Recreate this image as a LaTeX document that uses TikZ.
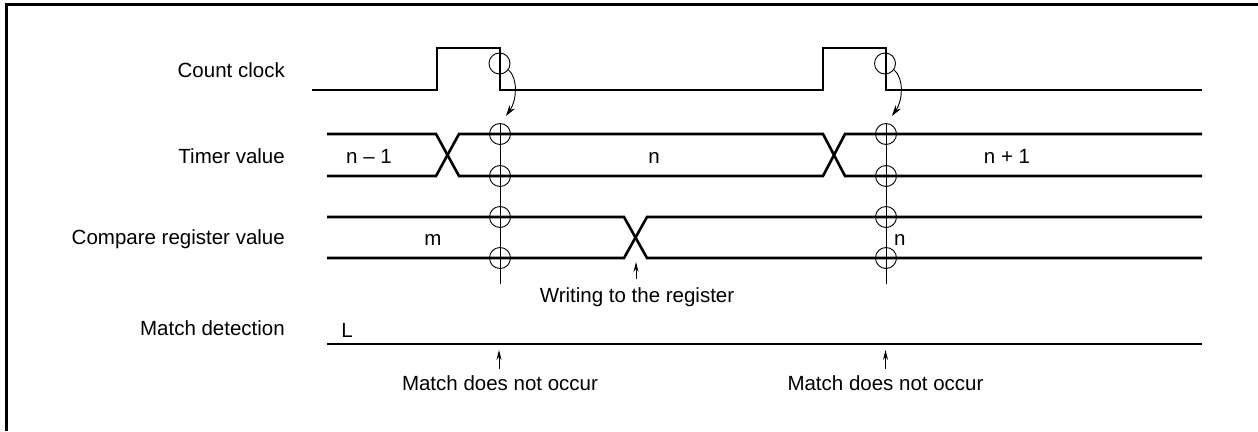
\documentclass[tikz,border=0pt]{standalone}
\usepackage{fontspec}
\setmainfont{Liberation Sans}
\usetikzlibrary{arrows.meta}
\begin{document}
\begin{tikzpicture}[x=1pt,y=-1pt,
  sig/.style={line width=2.6pt,line join=miter},
  thin/.style={line width=0.9pt},
  ring/.style={circle,draw,line width=0.9pt,minimum size=21pt,inner sep=0pt},
  lbl/.style={inner sep=0pt,font=\fontsize{20.5}{24}\selectfont},
  tip/.style={-{Stealth[length=11pt,width=6.5pt]}},
  stip/.style={-{Stealth[length=10pt,width=5pt]}}]
\useasboundingbox (0,0) rectangle (1258,431);
% frame
\draw[line width=3pt] (6.5,431) -- (6.5,4.5) -- (1258,4.5);
% labels
\node[lbl,anchor=base east] (lclk) at (285,77) {Count clock};
\node[lbl,anchor=base east] (ltim) at (285,163) {Timer value};
\node[lbl,anchor=base east] (lcmp) at (285,244) {Compare register value};
\node[lbl,anchor=base east] (lmat) at (285,335) {Match detection};
% waveforms
\draw[sig] (312,90) -- (437,90) -- (437,48) -- (500,48) -- (500,90) -- (823,90) -- (823,48) -- (886,48) -- (886,90) -- (1202,90);
\draw[sig] (327,134) -- (436,134) -- (459,176) -- (823,176) -- (845,134) -- (1202,134);
\draw[sig] (327,176) -- (436,176) -- (459,134) -- (823,134) -- (845,176) -- (1202,176);
\draw[sig] (327,217) -- (624,217) -- (647,258) -- (1202,258);
\draw[sig] (327,258) -- (624,258) -- (647,217) -- (1202,217);
\draw[sig] (327,344) -- (1202,344);
% values
\node[lbl,anchor=base] (vn1) at (369,163) {n – 1};
\node[lbl,anchor=base] (vn) at (654,163) {n};
\node[lbl,anchor=base] (vn2) at (1007,163) {n + 1};
\node[lbl,anchor=base] (vm) at (433,245) {m};
\node[lbl,anchor=base west] (vn3) at (894,245) {n};
\node[lbl,anchor=base] (vL) at (347,337) {L};
% vertical markers
\coordinate (v1t) at (500,123); \coordinate (v1b) at (500,284);
\coordinate (v2t) at (886,123); \coordinate (v2b) at (886,284);
\draw[thin] (v1t) -- (v1b);
\draw[thin] (v2t) -- (v2b);
\foreach \x/\n in {500/a,886/b}{
  \node[ring] (\n1) at (\x,134) {};
  \node[ring] (\n2) at (\x,176) {};
  \node[ring] (\n3) at (\x,217) {};
  \node[ring] (\n4) at (\x,258) {};
}
\node[ring] (ka) at (499.5,63.5) {};
\node[ring] (kb) at (885,63.5) {};
\coordinate (ta) at (506,116);
\coordinate (tb) at (892,116);
\draw[thin,tip] (ka.-35) .. controls (518,78) and (517,100) .. (ta);
\draw[thin,tip] (kb.-35) .. controls (904,78) and (903,100) .. (tb);
% annotations
\node[lbl,anchor=base] (wr) at (637,302) {Writing to the register};
\node[lbl,anchor=base] (ma) at (500,390) {Match does not occur};
\node[lbl,anchor=base] (mb) at (885.5,390) {Match does not occur};
\coordinate (wra) at (636,262);
\coordinate (maa) at (499,350);
\coordinate (mba) at (885.5,350);
\draw[thin,stip] (636,279) -- (wra);
\draw[thin,stip] (499,369) -- (maa);
\draw[thin,stip] (885.5,369) -- (mba);
\end{tikzpicture}
\end{document}
